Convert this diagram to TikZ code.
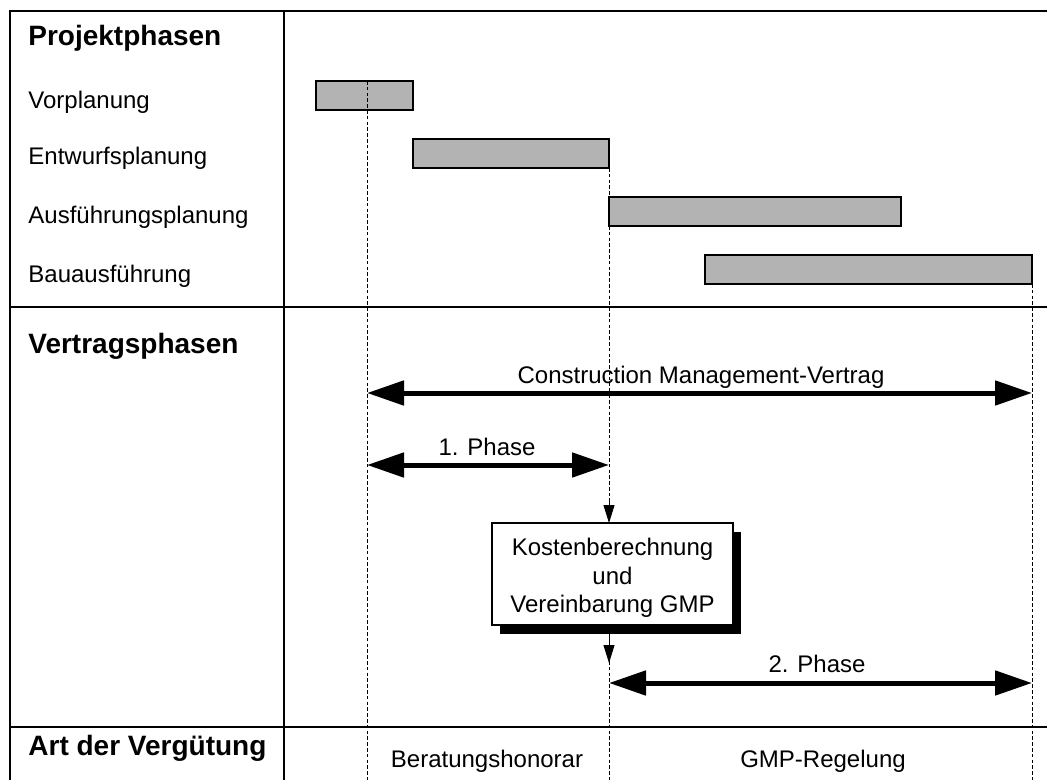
\documentclass[tikz,border=0pt]{standalone}
\usepackage{fontspec}
\setmainfont{Liberation Sans}
\usetikzlibrary{arrows.meta,shadows}
\definecolor{barfill}{HTML}{B3B3B3}

\begin{document}
\begin{tikzpicture}[x=0.5pt,y=-0.5pt,
  frame/.style={line width=0.75pt},
  guide/.style={line width=0.5pt, dash pattern=on 1.8pt off 1.1pt},
  bar/.style={draw, line width=0.6pt, fill=barfill, anchor=north west,
    inner sep=0pt, outer sep=0pt, minimum height=14.5pt},
  head/.style={font=\bfseries\fontsize{14}{16}\selectfont, anchor=base west, inner sep=0pt},
  rowlabel/.style={font=\fontsize{12}{14}\selectfont, anchor=base west, inner sep=0pt},
  lbl/.style={font=\fontsize{12}{14}\selectfont, anchor=base, inner sep=0pt},
  bigarrow/.style={line width=2.5pt,
    {Triangle[length=18.5pt,width=12pt]}-{Triangle[length=18.5pt,width=12pt]}},
  smallarrow/.style={line width=0.5pt, -{Triangle[length=9pt,width=5.5pt]}},
  gmpbox/.style={draw, line width=0.6pt, fill=white,
    minimum width=120.5pt, minimum height=51pt, inner sep=0pt, outer sep=0pt,
    drop shadow={shadow xshift=4pt, shadow yshift=-4.5pt, fill=black, opacity=1}},
  boxtext/.style={align=center, font=\fontsize{12}{14.2}\selectfont, inner sep=0pt}
]
\useasboundingbox (0,0) rectangle (1047,780);

% table frame
\draw[frame] (10,780) -- (10,11) -- (1047,11);
\draw[frame] (284,11) -- (284,780);
\draw[frame] (10,307) -- (1047,307);
\draw[frame] (10,727) -- (1047,727);

% section headings and row labels
\node[head] (hProj) at (28,46) {Projektphasen};
\node[rowlabel] (lVor) at (28,109) {Vorplanung};
\node[rowlabel] (lEnt) at (28,165) {Entwurfsplanung};
\node[rowlabel] (lAus) at (28,224) {Ausführungsplanung};
\node[rowlabel] (lBau) at (28,283) {Bauausführung};
\node[head] (hVer) at (28,353) {Vertragsphasen};
\node[head] (hArt) at (28,755) {Art der Vergütung};

% schedule bars
\node[bar, minimum width=48.5pt] (bVor) at (316,81) {};
\node[bar, minimum width=98pt] (bEnt) at (413,139) {};
\node[bar, minimum width=146pt] (bAus) at (609,197) {};
\node[bar, minimum width=163.5pt] (bBau) at (705,255) {};

% milestone guides
\coordinate (g1t) at (367,81);   \coordinate (g1b) at (367,780);
\coordinate (g2t) at (609,139);  \coordinate (g2b) at (609,780);
\coordinate (g3t) at (1032,255); \coordinate (g3b) at (1032,780);
\draw[guide] (g1t) -- (g1b);
\draw[guide] (g2t) -- (g2b);
\draw[guide] (g3t) -- (g3b);

% cost calculation box
\node[gmpbox] (box) at (612.5,574) {};
\node[boxtext, yshift=-1.9pt] (boxlines) at (box.center)
  {Kostenberechnung\\und\\Vereinbarung GMP};
\coordinate (inTop) at (609,498);
\coordinate (outBot) at (609,663);
\draw[smallarrow] (inTop) -- (box.north -| inTop);
\draw[smallarrow] (box.south -| outBot) -- (outBot);

% contract phases
\coordinate (cmL) at (367,393);  \coordinate (cmR) at (1032,393);
\coordinate (p1L) at (367,465);  \coordinate (p1R) at (609,465);
\coordinate (p2L) at (609,683);  \coordinate (p2R) at (1032,683);
\draw[bigarrow] (cmL) -- (cmR);
\draw[bigarrow] (p1L) -- (p1R);
\draw[bigarrow] (p2L) -- (p2R);
\node[lbl] (tCM) at (701,383) {Construction Management-Vertrag};
\node[lbl] (tP1) at (487,455) {1. Phase};
\node[lbl] (tP2) at (817,672) {2. Phase};

% remuneration
\node[lbl] (tBer) at (487,767) {Beratungshonorar};
\node[lbl] (tGMP) at (823,767) {GMP-Regelung};
\end{tikzpicture}
\end{document}
